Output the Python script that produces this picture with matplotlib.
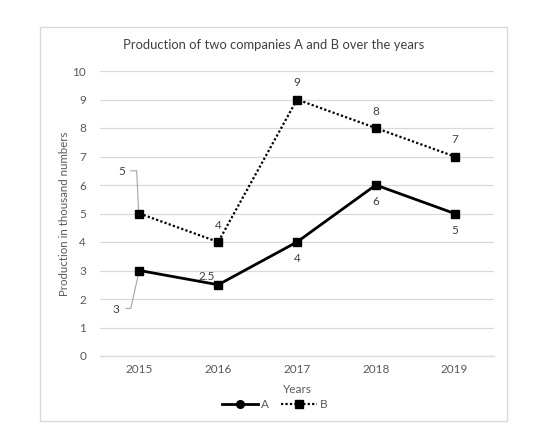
import matplotlib
matplotlib.use("Agg")
import matplotlib.pyplot as plt
from matplotlib.lines import Line2D
from matplotlib.patches import Rectangle

plt.rcParams['font.family'] = ['Lato', 'DejaVu Sans']

years = ['2015', '2016', '2017', '2018', '2019']
series_a = [3, 2.5, 4, 6, 5]
series_b = [5, 4, 9, 8, 7]
labels_a = ['3', '2.5', '4', '6', '5']
labels_b = ['5', '4', '9', '8', '7']
y_ticks = [0, 1, 2, 3, 4, 5, 6, 7, 8, 9, 10]

W, H = 538, 430
fig = plt.figure(figsize=(W / 100, H / 100), dpi=100)
ax = fig.add_axes([100 / W, 1 - 356 / H, 394 / W, 285 / H])

txt = '#595959'
grid = '#d9d9d9'
x = list(range(len(years)))

ax.plot(x, series_a, color='black', lw=2.0, marker='s', ms=5.5, zorder=3)
ax.plot(x, series_b, color='black', lw=1.6, ls=(0, (1, 1)), marker='s', ms=5.5, zorder=3)

ax.set_xlim(-0.5, 4.5)
ax.set_ylim(0, 10)
ax.set_yticks(y_ticks)
ax.set_xticks(x)
ax.set_xticklabels(years)
ax.tick_params(axis='both', length=0, labelsize=8.5, colors=txt)
ax.tick_params(axis='y', pad=10)
ax.tick_params(axis='x', pad=6)
ax.grid(axis='y', color=grid, lw=0.9)
ax.set_axisbelow(True)
for s in ['top', 'right', 'left']:
    ax.spines[s].set_visible(False)
ax.spines['bottom'].set_color(grid)
ax.spines['bottom'].set_linewidth(0.9)

fig.text(273.5 / W, 1 - 45 / H, 'Production of two companies A and B over the years',
         fontsize=9.4, color='#404040', ha='center', va='center')
ax.set_ylabel('Production in thousand numbers', fontsize=8.3, color=txt, labelpad=2)
ax.set_xlabel('Years', fontsize=8.5, color=txt, labelpad=6)

lead = '#a6a6a6'
lbl_kw = dict(fontsize=8.5, color='#404040', ha='center', va='center')
# data labels for B
for i, (v, t) in enumerate(zip(series_b, labels_b)):
    if i == 0:
        ax.annotate(t, xy=(i, v), xytext=(-13, 30), textcoords='offset points',
                    **lbl_kw)
        ax.plot([i - 0.11, i - 0.035, i - 0.01], [v + 1.5, v + 1.5, v + 0.1],
                color=lead, lw=0.8, zorder=2)
    else:
        ax.annotate(t, xy=(i, v), xytext=(0, 12), textcoords='offset points', **lbl_kw)
# data labels for A
for i, (v, t) in enumerate(zip(series_a, labels_a)):
    if i == 0:
        ax.annotate(t, xy=(i, v), xytext=(-17, -28), textcoords='offset points',
                    **lbl_kw)
        ax.plot([i - 0.17, i - 0.11, i - 0.01], [v - 1.33, v - 1.33, v - 0.1],
                color=lead, lw=0.8, zorder=2)
    elif i == 1:
        ax.annotate(t, xy=(i, v), xytext=(-8, 6), textcoords='offset points', **lbl_kw)
    else:
        ax.annotate(t, xy=(i, v), xytext=(0, -12), textcoords='offset points', **lbl_kw)

handles = [
    Line2D([], [], color='black', lw=2.0, marker='o', ms=5.5),
    Line2D([], [], color='black', lw=1.6, ls=(0, (1, 1)), marker='s', ms=5.5),
]
fig.legend(handles, ['A', 'B'], loc='center', bbox_to_anchor=(275 / W, 1 - 405 / H),
           ncol=2, frameon=False, fontsize=8.5, labelcolor=txt, handlelength=3.0,
           handletextpad=0.3, columnspacing=1.0)

fig.patches.append(Rectangle((40 / W, 1 - 421 / H), 467 / W, 394 / H,
                             transform=fig.transFigure, fill=False,
                             edgecolor=grid, lw=1))

fig.savefig('out.png', dpi=100)
